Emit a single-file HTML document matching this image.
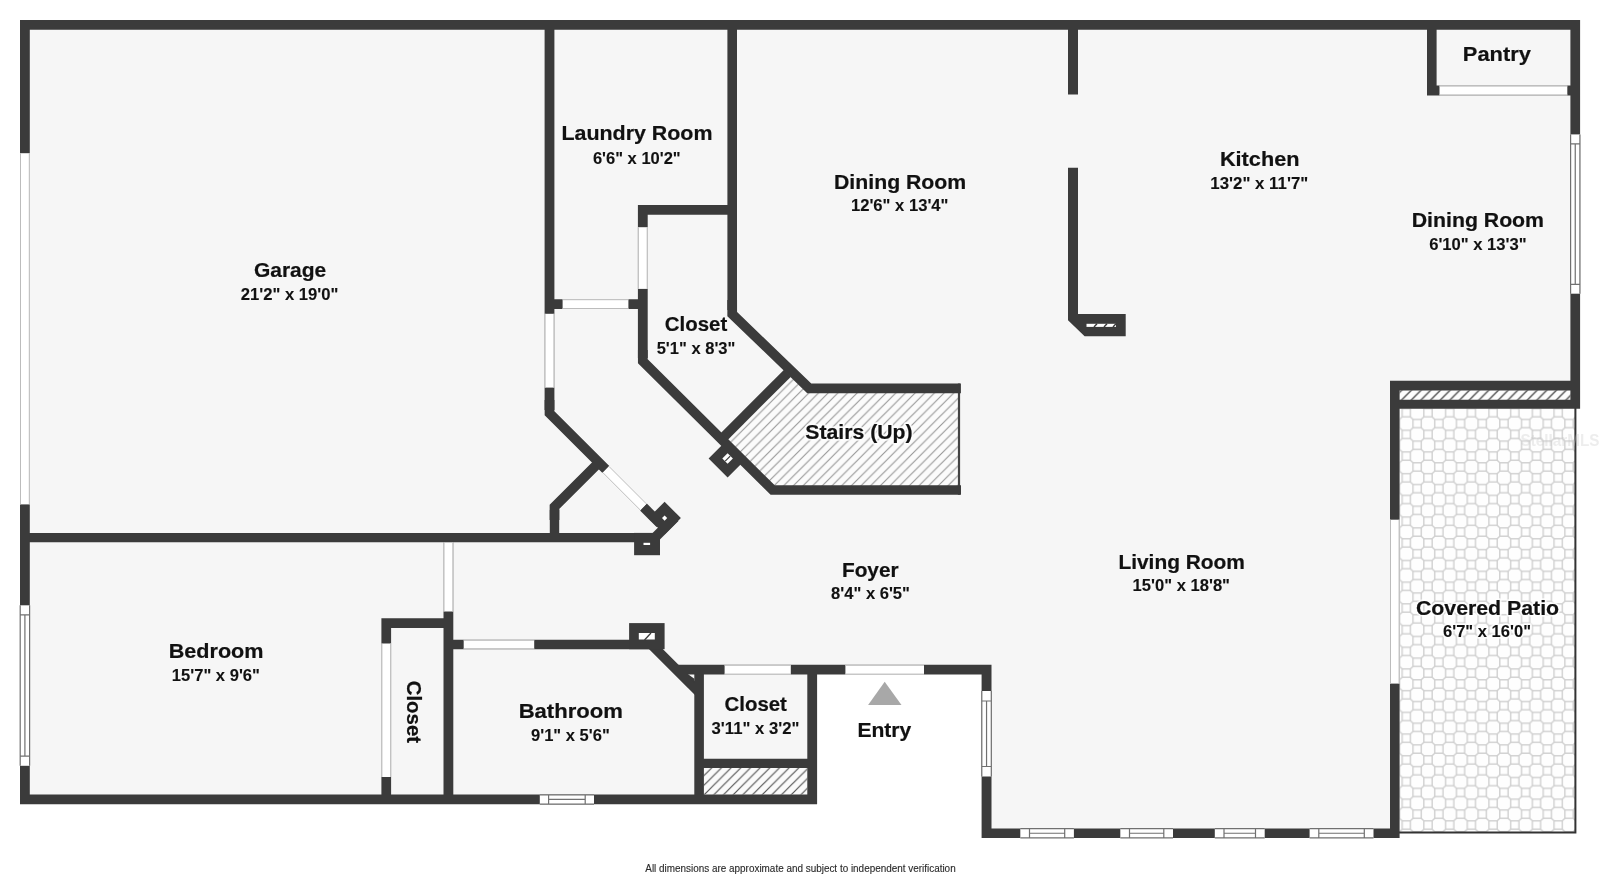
<!DOCTYPE html>
<html lang="en"><head><meta charset="utf-8"><title>Floor plan</title>
<style>
html,body{margin:0;padding:0;background:#fff;}
body{width:1600px;height:878px;overflow:hidden;font-family:"Liberation Sans", sans-serif;}
svg{display:block;will-change:transform;}
</style></head><body>
<svg width="1600" height="878" viewBox="0 0 1600 878">
<defs>
<pattern id="h1" width="9.66" height="9.66" patternUnits="userSpaceOnUse" x="4.0" y="0">
<rect width="9.66" height="9.66" fill="#fbfbfb"/><path d="M-1,10.66 L10.66,-1 M-1,1 L1,-1 M8.66,10.66 L10.66,8.66" stroke="#969696" stroke-width="1.1"/></pattern>
<pattern id="h2" width="9.67" height="9.67" patternUnits="userSpaceOnUse" x="0.06" y="0">
<rect width="9.67" height="9.67" fill="#fafafa"/><path d="M-1,10.67 L10.67,-1 M-1,1 L1,-1 M8.67,10.67 L10.67,8.67" stroke="#505050" stroke-width="1.15"/></pattern>
<pattern id="h3" width="9.67" height="9.67" patternUnits="userSpaceOnUse" x="3.0" y="0">
<rect width="9.67" height="9.67" fill="#fdfdfd"/><path d="M-1,10.67 L10.67,-1 M-1,1 L1,-1 M8.67,10.67 L10.67,8.67" stroke="#444" stroke-width="1.3"/></pattern>
<pattern id="tile" width="21.7" height="21.7" patternUnits="userSpaceOnUse" x="1417.15" y="705.65">
<rect width="21.7" height="21.7" fill="#fefefe"/>
<g fill="none" stroke="#d0d0d0" stroke-width="1.4">
<rect x="6.699999999999999" y="6.699999999999999" width="8.3" height="8.3"/>
<rect x="-4.15" y="-4.15" width="8.3" height="8.3"/><rect x="17.549999999999997" y="-4.15" width="8.3" height="8.3"/>
<rect x="-4.15" y="17.549999999999997" width="8.3" height="8.3"/><rect x="17.549999999999997" y="17.549999999999997" width="8.3" height="8.3"/>
<path d="M4.15,4.15L6.699999999999999,6.699999999999999M17.549999999999997,4.15L15.0,6.699999999999999M4.15,17.549999999999997L6.699999999999999,15.0M17.549999999999997,17.549999999999997L15.0,15.0"/>
</g></pattern>
<filter id="soft" x="0" y="0" width="1" height="1"><feGaussianBlur stdDeviation="0.35"/></filter>
</defs>
<polygon fill="#f6f6f6" points="20,20 1580,20 1580,408 1399,408 1399,838 982,838 982,665 817,665 817,804 20,804"/>
<rect x="1399.60" y="408.50" width="175.80" height="424.00" fill="url(#tile)" filter="url(#soft)"/>
<path d="M1575.4,408 V833.4 M1399,832.5 H1576.4" stroke="#333" stroke-width="2" fill="none"/>
<polygon fill="url(#h1)" points="787.5,373.2 809.2,388.3 959,388.3 959,490 772.6,490 724,436.7"/>
<path d="M959,383.5 V494.8" stroke="#444" stroke-width="2.2" fill="none"/>
<rect x="703.80" y="768.00" width="103.50" height="26.60" fill="url(#h2)" />
<rect x="1399.60" y="390.30" width="170.90" height="9.60" fill="url(#h3)" />
<path d="M20,20H1580.1V29.7H20ZM20,20H29.8V804.3H20ZM20,794.6H817.1V804.3H20ZM1570.4,20H1580.1V408.5H1570.4ZM1390,380.8H1580.1V390.4H1390ZM1390,399.8H1580.1V408.8H1390ZM1390,380.8H1399.6V838H1390ZM981.6,828.5H1399.6V838H981.6ZM981.6,664.8H991.5V838H981.6ZM678,664.8H991.5V674.6H678ZM694.3,670H703.9V804.3H694.3ZM807.3,664.8H817.1V804.3H807.3ZM694.3,758.8H817.1V768.1H694.3ZM544.6,20H554.4V410H544.6ZM727.4,20H737V310H727.4ZM637.9,204.9H737V214.7H637.9ZM637.9,204.9H647.7V358H637.9ZM544.6,299.2H647.7V309H544.6ZM20,532.9H640V542.3H20ZM549.8,510H559.2V542.3H549.8ZM443.5,542H453.3V804.3H443.5ZM381.4,618.3H453.3V628H381.4ZM381.4,618.3H391.1V804.3H381.4ZM443.5,639.8H655V649.2H443.5ZM1068,20H1078V94.6H1068ZM1427,20H1436.6V95.4H1427ZM1427,85.6H1580.1V95.4H1427Z" fill="#3b3b3b"/>
<polygon fill="#3b3b3b" points="1068,167.8 1078,167.8 1078,314 1125.7,314 1125.7,336.2 1084.6,336.2 1068,320.2"/>
<rect x="1086.50" y="323.80" width="29.50" height="3.10" fill="#fff" />
<path d="M1094,327 l3,-3.2 M1104,327 l3,-3.2 M1113,327 l3,-3.2" stroke="#3b3b3b" stroke-width="1.4"/>
<path d="M732.2,300 V314.1 L809.2,388.3 H960.9" stroke="#3b3b3b" stroke-width="9.7" fill="none" stroke-linejoin="miter" stroke-miterlimit="10"/>
<path d="M642.8,350 V361.2 L772.6,490 H961" stroke="#3b3b3b" stroke-width="9.7" fill="none" stroke-linejoin="miter" stroke-miterlimit="10"/>
<path d="M787.5,373.2 L724,436.7" stroke="#3b3b3b" stroke-width="9.7" fill="none" stroke-linejoin="miter" stroke-miterlimit="10"/>
<path d="M549.5,400 V413.2 L605.9,469.5" stroke="#3b3b3b" stroke-width="9.7" fill="none" stroke-linejoin="miter" stroke-miterlimit="10"/>
<path d="M643.4,507 L660,523.6" stroke="#3b3b3b" stroke-width="9.7" fill="none" stroke-linejoin="miter" stroke-miterlimit="10"/>
<path d="M554.5,520 V506.85 L598.9,462.5" stroke="#3b3b3b" stroke-width="9.7" fill="none" stroke-linejoin="miter" stroke-miterlimit="10"/>
<path d="M652.3,645.45 L699.1,692.25" stroke="#3b3b3b" stroke-width="9.7" fill="none" stroke-linejoin="miter" stroke-miterlimit="10"/>
<path d="M675,517.45 L650,542.45" stroke="#3b3b3b" stroke-width="9.7" fill="none" stroke-linejoin="miter" stroke-miterlimit="10"/>
<polygon fill="#3b3b3b" points="686.5,674 688.3,674.6 694.4,678.7 694.4,683 "/>
<polygon fill="#3b3b3b" points="648.3000000000001,518.1 664.6,501.8 680.9,518.1 664.6,534.4"/><polygon fill="#fff" points="662.0,518.1 664.6,515.5 667.2,518.1 664.6,520.7"/>
<polygon fill="#3b3b3b" points="708.6,458.5 727.6,439.5 746.6,458.5 727.6,477.5"/><polygon fill="#fff" points="722.3000000000001,458.5 727.6,453.2 732.9,458.5 727.6,463.8"/>
<path d="M725.2,461.2 l5,-5" stroke="#3b3b3b" stroke-width="1.2"/>
<rect x="634.10" y="532.90" width="25.90" height="22.30" fill="#3b3b3b" />
<rect x="643.50" y="542.80" width="6.60" height="2.20" fill="#fff" />
<rect x="629.10" y="623.10" width="35.50" height="26.10" fill="#3b3b3b" />
<rect x="638.80" y="633.00" width="16.00" height="6.50" fill="#fff" />
<path d="M644.5,640 l6.5,-7" stroke="#3b3b3b" stroke-width="1.3"/>
<rect x="20.00" y="153.20" width="9.80" height="351.20" fill="#fff" /><path d="M20.5,153.2V504.4M29.3,153.2V504.4" stroke="#bcbcbc" stroke-width="1" fill="none"/>
<rect x="562.60" y="299.20" width="65.80" height="9.80" fill="#fff" /><path d="M562.6,299.7H628.4M562.6,308.5H628.4" stroke="#bcbcbc" stroke-width="1" fill="none"/>
<rect x="637.90" y="227.20" width="9.80" height="61.70" fill="#fff" /><path d="M638.4,227.2V288.9M647.2,227.2V288.9" stroke="#bcbcbc" stroke-width="1" fill="none"/>
<rect x="544.60" y="313.80" width="9.80" height="73.80" fill="#fff" /><path d="M545.1,313.8V387.6M553.9,313.8V387.6" stroke="#bcbcbc" stroke-width="1" fill="none"/>
<rect x="443.50" y="542.30" width="9.80" height="69.20" fill="#fff" /><path d="M444.0,542.3V611.5M452.8,542.3V611.5" stroke="#bcbcbc" stroke-width="1" fill="none"/>
<rect x="381.40" y="643.50" width="9.70" height="133.50" fill="#fff" /><path d="M381.9,643.5V777M390.6,643.5V777" stroke="#bcbcbc" stroke-width="1" fill="none"/>
<rect x="463.70" y="639.80" width="70.50" height="9.40" fill="#fff" /><path d="M463.7,640.3H534.2M463.7,648.7H534.2" stroke="#bcbcbc" stroke-width="1" fill="none"/>
<rect x="724.60" y="664.80" width="66.20" height="9.80" fill="#fff" /><path d="M724.6,665.3H790.8M724.6,674.1H790.8" stroke="#bcbcbc" stroke-width="1" fill="none"/>
<rect x="845.40" y="664.80" width="78.60" height="9.80" fill="#fff" /><path d="M845.4,665.3H924M845.4,674.1H924" stroke="#bcbcbc" stroke-width="1" fill="none"/>
<rect x="1439.50" y="85.60" width="127.80" height="9.80" fill="#fff" /><path d="M1439.5,86.1H1567.3M1439.5,94.9H1567.3" stroke="#bcbcbc" stroke-width="1" fill="none"/>
<rect x="1390.00" y="519.70" width="9.60" height="163.90" fill="#fff" /><path d="M1390.5,519.7V683.6M1399.1,519.7V683.6" stroke="#bcbcbc" stroke-width="1" fill="none"/>
<path d="M605.9,469.5 L643.4,507" stroke="#fff" stroke-width="9.7" fill="none"/>
<path d="M608.9759144981615,466.42408550183853 L646.4759144981615,503.92408550183853 M602.8240855018385,472.57591449816147 L640.3240855018385,510.07591449816147" stroke="#bcbcbc" stroke-width="1" fill="none"/>
<rect x="20.00" y="605.30" width="9.80" height="160.50" fill="#fff" /><path d="M20.2,605.3V765.8M29.6,605.3V765.8M24.9,614.9V756.1999999999999M20,614.9H29.8M20,756.1999999999999H29.8" stroke="#707070" stroke-width="1.2" fill="none"/>
<rect x="539.80" y="794.60" width="54.20" height="9.70" fill="#fff" /><path d="M539.8,794.8000000000001H594M539.8,804.0999999999999H594M548.5999999999999,799.45H585.2M548.5999999999999,794.6V804.3M585.2,794.6V804.3" stroke="#707070" stroke-width="1.2" fill="none"/>
<rect x="981.60" y="691.00" width="9.90" height="85.50" fill="#fff" /><path d="M981.8000000000001,691V776.5M991.3,691V776.5M986.55,701V766.5M981.6,701H991.5M981.6,766.5H991.5" stroke="#707070" stroke-width="1.2" fill="none"/>
<rect x="1020.30" y="828.50" width="53.60" height="9.50" fill="#fff" /><path d="M1020.3,828.7H1073.9M1020.3,837.8H1073.9M1029.5,833.25H1064.7M1029.5,828.5V838M1064.7,828.5V838" stroke="#707070" stroke-width="1.2" fill="none"/>
<rect x="1120.30" y="828.50" width="52.70" height="9.50" fill="#fff" /><path d="M1120.3,828.7H1173M1120.3,837.8H1173M1129.5,833.25H1163.8M1129.5,828.5V838M1163.8,828.5V838" stroke="#707070" stroke-width="1.2" fill="none"/>
<rect x="1214.80" y="828.50" width="49.90" height="9.50" fill="#fff" /><path d="M1214.8,828.7H1264.7M1214.8,837.8H1264.7M1224.0,833.25H1255.5M1224.0,828.5V838M1255.5,828.5V838" stroke="#707070" stroke-width="1.2" fill="none"/>
<rect x="1309.60" y="828.50" width="63.90" height="9.50" fill="#fff" /><path d="M1309.6,828.7H1373.5M1309.6,837.8H1373.5M1318.8,833.25H1364.3M1318.8,828.5V838M1364.3,828.5V838" stroke="#707070" stroke-width="1.2" fill="none"/>
<rect x="1570.40" y="134.40" width="9.70" height="159.30" fill="#fff" /><path d="M1570.6000000000001,134.4V293.7M1579.8999999999999,134.4V293.7M1575.25,143.8V284.3M1570.4,143.8H1580.1M1570.4,284.3H1580.1" stroke="#707070" stroke-width="1.2" fill="none"/>
<polygon fill="#a8a8a8" points="884.7,681.7 901.5,705 868.1,705"/>
<g font-family='"Liberation Sans", sans-serif' font-weight="bold" fill="#111">
<text x="253.95" y="277.40" font-size="20" textLength="72.23" lengthAdjust="spacingAndGlyphs" stroke="#111" stroke-width="0.2">Garage</text>
<text x="240.75" y="299.90" font-size="16" textLength="97.71" lengthAdjust="spacingAndGlyphs" stroke="#111" stroke-width="0.1">21'2&quot; x 19'0&quot;</text>
<text x="561.48" y="140.40" font-size="20" textLength="151.01" lengthAdjust="spacingAndGlyphs" stroke="#111" stroke-width="0.2">Laundry Room</text>
<text x="592.90" y="163.50" font-size="16" textLength="87.80" lengthAdjust="spacingAndGlyphs" stroke="#111" stroke-width="0.1">6'6&quot; x 10'2&quot;</text>
<text x="834.04" y="188.80" font-size="20" textLength="132.19" lengthAdjust="spacingAndGlyphs" stroke="#111" stroke-width="0.2">Dining Room</text>
<text x="850.91" y="211.20" font-size="16" textLength="97.55" lengthAdjust="spacingAndGlyphs" stroke="#111" stroke-width="0.1">12'6&quot; x 13'4&quot;</text>
<text x="1219.91" y="166.10" font-size="20" textLength="79.61" lengthAdjust="spacingAndGlyphs" stroke="#111" stroke-width="0.2">Kitchen</text>
<text x="1210.35" y="188.70" font-size="16" textLength="97.87" lengthAdjust="spacingAndGlyphs" stroke="#111" stroke-width="0.1">13'2&quot; x 11'7&quot;</text>
<text x="1462.86" y="61.40" font-size="20" textLength="68.03" lengthAdjust="spacingAndGlyphs" stroke="#111" stroke-width="0.2">Pantry</text>
<text x="1411.74" y="226.60" font-size="20" textLength="132.30" lengthAdjust="spacingAndGlyphs" stroke="#111" stroke-width="0.2">Dining Room</text>
<text x="1429.20" y="249.50" font-size="16" textLength="97.41" lengthAdjust="spacingAndGlyphs" stroke="#111" stroke-width="0.1">6'10&quot; x 13'3&quot;</text>
<text x="664.85" y="330.70" font-size="20" textLength="62.35" lengthAdjust="spacingAndGlyphs" stroke="#111" stroke-width="0.2">Closet</text>
<text x="656.65" y="354.20" font-size="16" textLength="78.71" lengthAdjust="spacingAndGlyphs" stroke="#111" stroke-width="0.1">5'1&quot; x 8'3&quot;</text>
<text x="805.35" y="438.60" font-size="20" textLength="107.20" lengthAdjust="spacingAndGlyphs" fill="none" stroke="#fff" stroke-opacity="0.8" stroke-width="3.6" stroke-linejoin="round">Stairs (Up)</text><text x="805.35" y="438.60" font-size="20" textLength="107.20" lengthAdjust="spacingAndGlyphs" stroke="#111" stroke-width="0.2">Stairs (Up)</text>
<text x="841.91" y="576.60" font-size="20" textLength="56.72" lengthAdjust="spacingAndGlyphs" stroke="#111" stroke-width="0.2">Foyer</text>
<text x="831.05" y="598.60" font-size="16" textLength="78.91" lengthAdjust="spacingAndGlyphs" stroke="#111" stroke-width="0.1">8'4&quot; x 6'5&quot;</text>
<text x="1118.40" y="569.10" font-size="20" textLength="126.56" lengthAdjust="spacingAndGlyphs" stroke="#111" stroke-width="0.2">Living Room</text>
<text x="1132.56" y="591.40" font-size="16" textLength="97.44" lengthAdjust="spacingAndGlyphs" stroke="#111" stroke-width="0.1">15'0&quot; x 18'8&quot;</text>
<text x="1415.90" y="614.80" font-size="20" textLength="143.23" lengthAdjust="spacingAndGlyphs" fill="none" stroke="#fff" stroke-opacity="0.8" stroke-width="3.6" stroke-linejoin="round">Covered Patio</text><text x="1415.90" y="614.80" font-size="20" textLength="143.23" lengthAdjust="spacingAndGlyphs" stroke="#111" stroke-width="0.2">Covered Patio</text>
<text x="1443.00" y="637.00" font-size="16" textLength="88.01" lengthAdjust="spacingAndGlyphs" fill="none" stroke="#fff" stroke-opacity="0.8" stroke-width="3.6" stroke-linejoin="round">6'7&quot; x 16'0&quot;</text><text x="1443.00" y="637.00" font-size="16" textLength="88.01" lengthAdjust="spacingAndGlyphs" stroke="#111" stroke-width="0.1">6'7&quot; x 16'0&quot;</text>
<text x="168.72" y="657.60" font-size="20" textLength="94.72" lengthAdjust="spacingAndGlyphs" stroke="#111" stroke-width="0.2">Bedroom</text>
<text x="171.81" y="681.20" font-size="16" textLength="88.14" lengthAdjust="spacingAndGlyphs" stroke="#111" stroke-width="0.1">15'7&quot; x 9'6&quot;</text>
<text x="518.65" y="718.20" font-size="20" textLength="104.27" lengthAdjust="spacingAndGlyphs" stroke="#111" stroke-width="0.2">Bathroom</text>
<text x="531.05" y="740.80" font-size="16" textLength="78.71" lengthAdjust="spacingAndGlyphs" stroke="#111" stroke-width="0.1">9'1&quot; x 5'6&quot;</text>
<text x="724.55" y="710.70" font-size="20" textLength="62.35" lengthAdjust="spacingAndGlyphs" stroke="#111" stroke-width="0.2">Closet</text>
<text x="711.60" y="734.20" font-size="16" textLength="87.81" lengthAdjust="spacingAndGlyphs" stroke="#111" stroke-width="0.1">3'11&quot; x 3'2&quot;</text>
<text x="857.45" y="737.40" font-size="20" textLength="53.83" lengthAdjust="spacingAndGlyphs" stroke="#111" stroke-width="0.2">Entry</text>
<text x="-31.35" y="0" font-size="20" textLength="62.35" lengthAdjust="spacingAndGlyphs" stroke="#111" stroke-width="0.2" transform="translate(407.3,712.05) rotate(90)">Closet</text>
</g>
<text x="645.30" y="872.0" font-family='"Liberation Sans", sans-serif' font-size="10" fill="#2a2a2a" stroke="#2a2a2a" stroke-width="0.12" textLength="310.36" lengthAdjust="spacingAndGlyphs">All dimensions are approximate and subject to independent verification</text>
<text x="1520.5" y="445.5" font-family='"Liberation Sans", sans-serif' font-size="17" font-weight="bold" fill="#c8c8c8" fill-opacity="0.32" textLength="79" lengthAdjust="spacingAndGlyphs">StellarMLS</text>
</svg>
</body></html>
